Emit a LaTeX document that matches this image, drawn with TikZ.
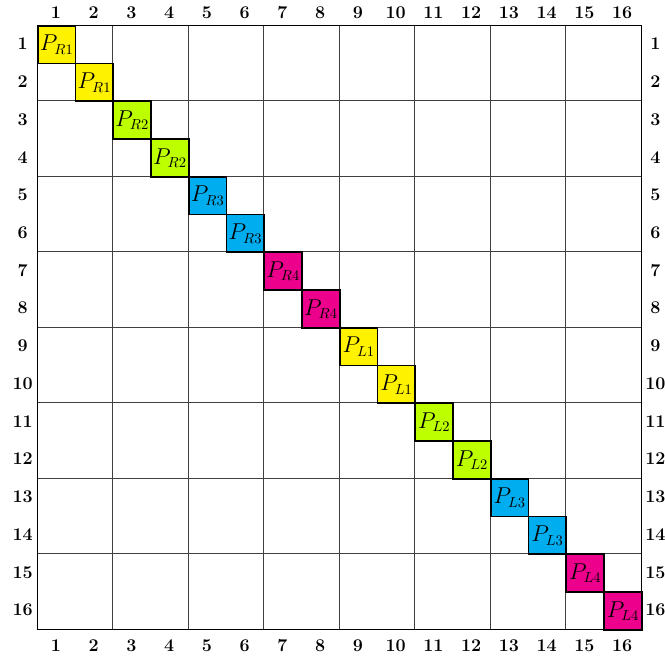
\documentclass[tikz,border=0pt]{standalone}
\usetikzlibrary{calc}
\definecolor{cY}{RGB}{255,242,0}
\definecolor{cG}{RGB}{190,255,0}
\definecolor{cC}{RGB}{0,174,239}
\definecolor{cM}{RGB}{236,0,140}
\tikzset{
  gridline/.style={line width=0.5pt, black!75},
  pcell/.style={draw=black, line width=1.3pt, minimum size=1cm, inner sep=0pt, anchor=north west, font=\fontsize{16}{18}\selectfont},
  numlab/.style={font=\bfseries\fontsize{13.5}{15}\selectfont, inner sep=0pt}
}
\begin{document}
\begin{tikzpicture}[x=1cm,y=1cm]
\useasboundingbox (-0.98,-16.874) rectangle (16.636,0.662);
% grid
\foreach \k in {2,4,...,14} {
  \draw[gridline] (\k,0) -- (\k,-16);
  \draw[gridline] (0,-\k) -- (16,-\k);
}
\draw[line width=0.6pt] (0,0) rectangle (16,-16);
% labels
\foreach \k in {1,...,16} {
  \node[numlab] (t\k) at (\k-0.5,0.33) {\k};
  \node[numlab] (b\k) at (\k-0.5,-16.45) {\k};
  \node[numlab] (l\k) at (-0.38,-\k+0.5) {\k};
  \node[numlab] (r\k) at (16.38,-\k+0.5) {\k};
}
% colored cells
\foreach \i/\c/\s in {1/cY/R1,2/cY/R1,3/cG/R2,4/cG/R2,5/cC/R3,6/cC/R3,7/cM/R4,8/cM/R4,
                      9/cY/L1,10/cY/L1,11/cG/L2,12/cG/L2,13/cC/L3,14/cC/L3,15/cM/L4,16/cM/L4} {
  \node[pcell, fill=\c] (p\i) at (\i-1,-\i+1) {$P_{\s}$};
}
\end{tikzpicture}
\end{document}
